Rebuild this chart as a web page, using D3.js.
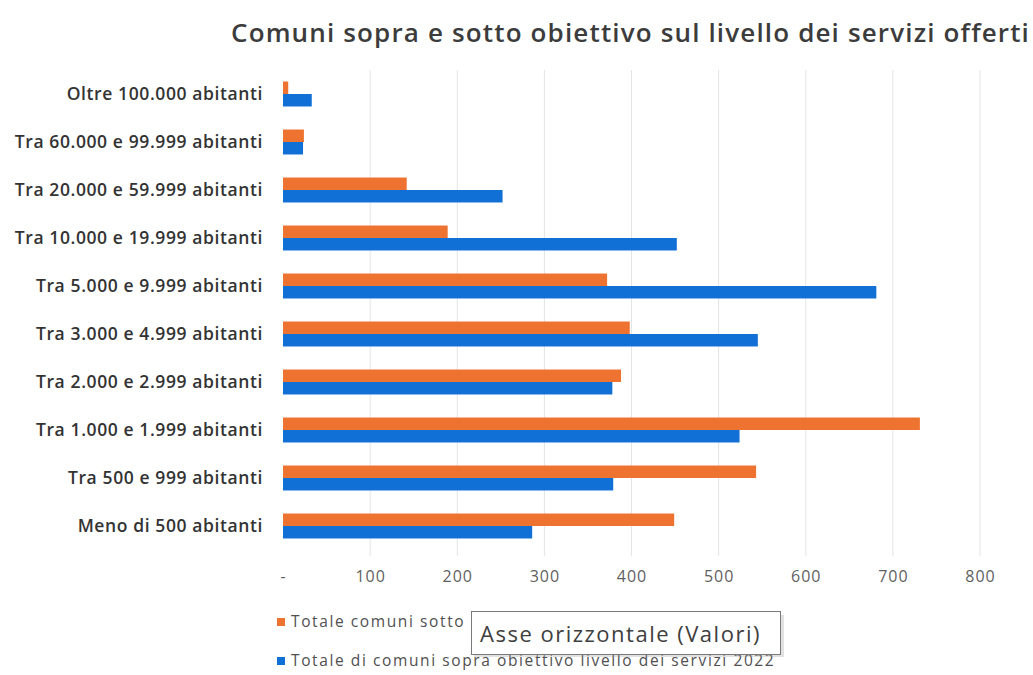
<!DOCTYPE html>
<html>
<head>
<meta charset="utf-8">
<script src="https://cdn.jsdelivr.net/npm/d3@7"></script>
<style>
  html, body { margin: 0; padding: 0; background: #fff; }
  svg { display: block; }
</style>
</head>
<body>
<svg id="chart" width="1033" height="675"></svg>
<script>
// Fasce demografiche (dall'alto verso il basso)
const categories = [
  "Oltre 100.000 abitanti",
  "Tra 60.000 e 99.999 abitanti",
  "Tra 20.000 e 59.999 abitanti",
  "Tra 10.000 e 19.999 abitanti",
  "Tra 5.000 e 9.999 abitanti",
  "Tra 3.000 e 4.999 abitanti",
  "Tra 2.000 e 2.999 abitanti",
  "Tra 1.000 e 1.999 abitanti",
  "Tra 500 e 999 abitanti",
  "Meno di 500 abitanti"
];

// Totale comuni sotto obiettivo livello dei servizi 2022
const sottoObiettivo = [6, 24, 142, 189, 372, 398, 388, 731, 543, 449];
// Totale di comuni sopra obiettivo livello dei servizi 2022
const sopraObiettivo = [33, 23, 252, 452, 681, 545, 378, 524, 379, 286];

const xTicks = [0, 100, 200, 300, 400, 500, 600, 700, 800];
const seriesNames = [
  "Totale comuni sotto obiettivo livello dei servizi 2022",
  "Totale di comuni sopra obiettivo livello dei servizi 2022"
];
const seriesColors = ["#EE7330", "#1170D6"];

const svg = d3.select("#chart");

const x = d3.scaleLinear().domain([0, 800]).range([283, 980]);
const y = d3.scaleBand().domain(categories).range([70, 550])
  .paddingInner(0.48).paddingOuter(0.24);
const sub = d3.scaleBand().domain([0, 1]).range([0, y.bandwidth()]);

// Titolo
svg.append("text")
  .attr("x", 231).attr("y", 42)
  .attr("font-family", "Open Sans").attr("font-weight", 600)
  .attr("font-size", 26).attr("letter-spacing", 1.15).attr("fill", "#3c3c3c")
  .text("Comuni sopra e sotto obiettivo sul livello dei servizi offerti");

// Griglia verticale
svg.append("g").selectAll("line")
  .data(xTicks.filter(d => d > 0))
  .join("line")
  .attr("x1", d => x(d)).attr("x2", d => x(d))
  .attr("y1", 70).attr("y2", 556)
  .attr("stroke", "#e4e4e4").attr("stroke-width", 1);

// Barre
const rows = svg.append("g").selectAll("g")
  .data(categories)
  .join("g")
  .attr("transform", d => `translate(0,${y(d)})`);

[sottoObiettivo, sopraObiettivo].forEach((vals, s) => {
  rows.append("rect")
    .attr("x", x(0))
    .attr("y", sub(s))
    .attr("width", (d, i) => x(vals[i]) - x(0))
    .attr("height", sub.bandwidth())
    .attr("fill", seriesColors[s]);
});

// Asse delle categorie
const yAxis = svg.append("g")
  .attr("transform", `translate(${x(0)},0)`)
  .call(d3.axisLeft(y).tickSize(0).tickPadding(20));
yAxis.select(".domain").remove();
yAxis.selectAll("text")
  .attr("font-family", "Open Sans").attr("font-weight", 600)
  .attr("font-size", 17.5).attr("letter-spacing", 0.6)
  .attr("fill", "#333");

// Asse dei valori
const xAxis = svg.append("g")
  .attr("transform", "translate(0,560)")
  .call(d3.axisBottom(x).tickValues(xTicks).tickSize(0).tickPadding(11)
    .tickFormat(d => d === 0 ? "-" : d3.format("d")(d)));
xAxis.select(".domain").remove();
xAxis.selectAll("text")
  .attr("font-family", "Open Sans").attr("font-size", 16)
  .attr("letter-spacing", 1).attr("fill", "#5f5f5f");

// Legenda
const legend = svg.append("g");
const legY = [622, 661];
seriesNames.forEach((name, s) => {
  legend.append("rect")
    .attr("x", 277).attr("y", legY[s] - 4).attr("width", 8).attr("height", 8)
    .attr("fill", seriesColors[s]);
  legend.append("text")
    .attr("x", 291).attr("y", legY[s]).attr("dy", "0.35em")
    .attr("font-family", "Open Sans").attr("font-size", 15.5)
    .attr("letter-spacing", 1.6).attr("fill", "#505050")
    .text(name);
});

// Etichetta a comparsa sull'asse orizzontale (copre in parte la legenda)
const tip = svg.append("g");
tip.append("rect")
  .attr("x", 474).attr("y", 615).attr("width", 310).attr("height", 42)
  .attr("fill", "#9a9a9a").attr("opacity", 0.3);
tip.append("rect")
  .attr("x", 471.5).attr("y", 611.5).attr("width", 309).attr("height", 43)
  .attr("fill", "#fff").attr("stroke", "#7a7a7a").attr("stroke-width", 1);
tip.append("text")
  .attr("x", 480).attr("y", 634).attr("dy", "0.35em")
  .attr("font-family", "Open Sans").attr("font-size", 22)
  .attr("letter-spacing", 1.5).attr("fill", "#404040")
  .text("Asse orizzontale (Valori)");
</script>
</body>
</html>
